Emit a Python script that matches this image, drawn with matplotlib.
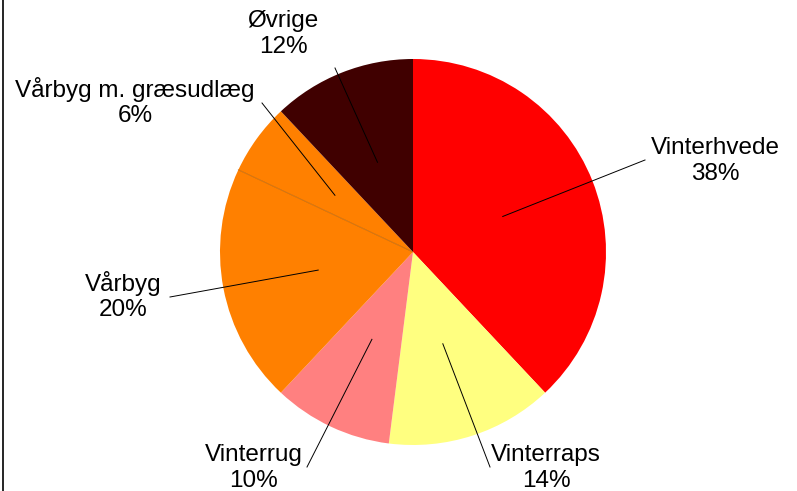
import numpy as np
import matplotlib
matplotlib.use("Agg")
import matplotlib.pyplot as plt
from matplotlib.lines import Line2D

# crop shares (percent), clockwise from 12 o'clock
crops = ["Vinterhvede", "Vinterraps", "Vinterrug", "Vårbyg", "Vårbyg m. græsudlæg", "Øvrige"]
shares = [38, 14, 10, 20, 6, 12]
colors = ["#ff0000", "#ffff80", "#ff8080", "#ff8000", "#ff8000", "#400000"]

# label text centre and leader line end (pixel coords, y from top)
label_pos = [(715, 161), (546, 468), (254, 468), (123, 296), (135, 102), (283, 34)]
line_end = [(645, 160), (490, 467), (307, 467), (170, 297), (262, 103), (335, 68)]

W, H = 797, 491
cx, cy, R = 413, H - 252, 193

fig = plt.figure(figsize=(W / 100, H / 100), dpi=100)
ax = fig.add_axes([0, 0, 1, 1])

wedges, _ = ax.pie(shares, colors=colors, startangle=90, counterclock=False,
                   center=(cx, cy), radius=R, frame=True,
                   wedgeprops=dict(linewidth=0))
ax.set_xlim(0, W)
ax.set_ylim(0, H)
ax.set_aspect("equal")
ax.axis("off")

# faint split line between the two orange slices
for i in range(len(shares) - 1):
    if colors[i] == colors[i + 1]:
        ang = np.deg2rad(wedges[i].theta1)
        ax.plot([cx, cx + R * np.cos(ang)], [cy, cy + R * np.sin(ang)],
                color="#b86000", lw=0.7, alpha=0.7)

for w, name, pct, (tx, ty), (ex, ey) in zip(wedges, crops, shares, label_pos, line_end):
    mid = np.deg2rad((w.theta1 + w.theta2) / 2)
    px = cx + 0.5 * R * np.cos(mid)
    py = cy + 0.5 * R * np.sin(mid)
    ax.plot([px, ex], [py, H - ey], color="black", lw=0.7)
    ax.text(tx, H - ty, "%s\n%d%%" % (name, pct), ha="center", va="center",
            fontsize=17.5, family="Liberation Sans", linespacing=1.22)

fig.add_artist(Line2D([2.5 / W, 2.5 / W], [0, 1], color="black", lw=1.2,
                      transform=fig.transFigure))

fig.savefig("out.png", dpi=100, facecolor="white")
